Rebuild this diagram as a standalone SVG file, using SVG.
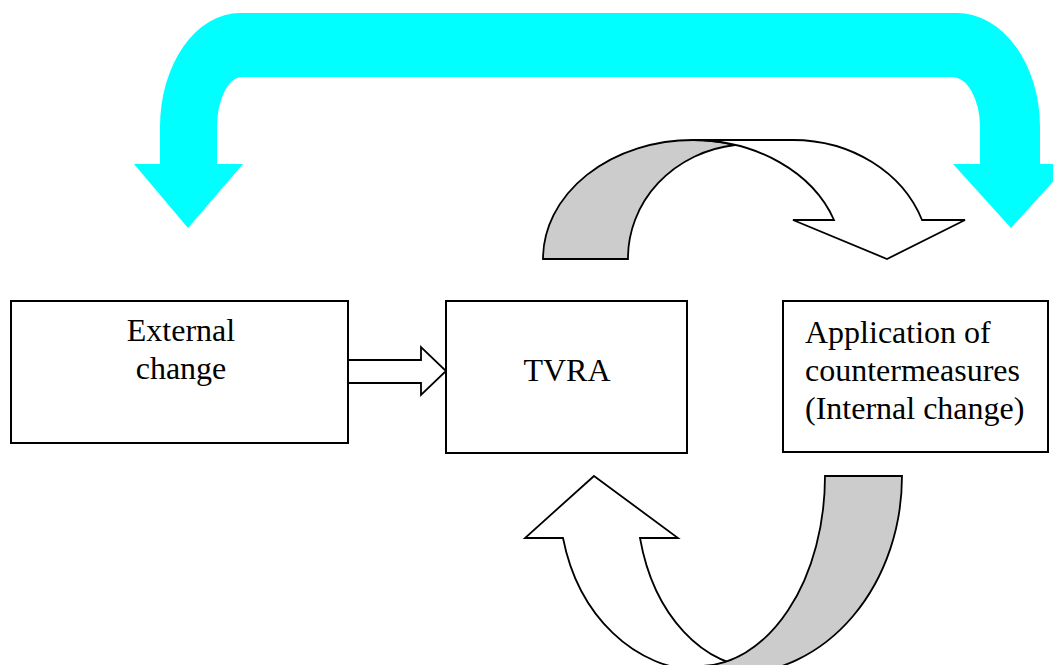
<svg xmlns="http://www.w3.org/2000/svg" width="1053" height="665" viewBox="0 0 1053 665">
<style>
.box{fill:#fff;stroke:#000;stroke-width:2}
.lbl{font-family:"Liberation Serif","Times New Roman",serif;font-size:32px;fill:#000}
.ol{stroke:#000;stroke-width:1.8;stroke-linejoin:miter}
.white{fill:#fff}
.gray{fill:#ccc}
.cyan{fill:#00ffff;stroke:none}
</style>
<rect width="1053" height="665" fill="#fff"/>
<g id="connectors">
  <path id="feedback-cyan" class="cyan" d="M160,164 L160,127 A80 114 0 0 1 240,13 L957,13 A83 114 0 0 1 1040,127 L1040,164 L1069,164 L1011,228 L953,164 L980,164 L980,127 A28 50 0 0 0 952,77 L242,77 A25 50 0 0 0 217,127 L217,164 L243,164 L188,228 L134,164 Z"/>
  <g id="top-curved-arrow">
    <path class="gray ol" d="M543,259 A150 119 0 0 1 693,140 A150 120 0 0 1 735,145 A122 114 0 0 0 628,259 Z"/>
    <path class="white ol" d="M693,140 L793,140 A137 120 0 0 1 922,220 L965,220 L887,259 L793,220 L834,220 A150 120 0 0 0 693,140 Z"/>
  </g>
  <g id="bottom-curved-arrow">
    <path class="white ol" d="M594,476 L678,538 L640,538 A123.4 170 0 0 0 760,668 L700,670 A141 172 0 0 1 563,538 L525,538 Z"/>
    <path class="gray ol" d="M825,476 L902,476 A167 198 0 0 1 735,674 L699,666 A126 190 0 0 0 825,476 Z"/>
  </g>
  <path id="ext-to-tvra" class="white ol" d="M348,360 L421,360 L421,347 L446,371 L421,395 L421,383 L348,383"/>
</g>
<g id="external-change">
  <rect class="box" x="11" y="301" width="337" height="142"/>
  <text class="lbl" x="181" y="341" text-anchor="middle">External</text>
  <text class="lbl" x="181" y="379" text-anchor="middle">change</text>
</g>
<g id="tvra">
  <rect class="box" x="446" y="301" width="241" height="152"/>
  <text class="lbl" x="567" y="381" text-anchor="middle">TVRA</text>
</g>
<g id="countermeasures">
  <rect class="box" x="783" y="301" width="265" height="151"/>
  <text class="lbl" x="805" y="343">Application of</text>
  <text class="lbl" x="805" y="381">countermeasures</text>
  <text class="lbl" x="805" y="419">(Internal change)</text>
</g>
</svg>
